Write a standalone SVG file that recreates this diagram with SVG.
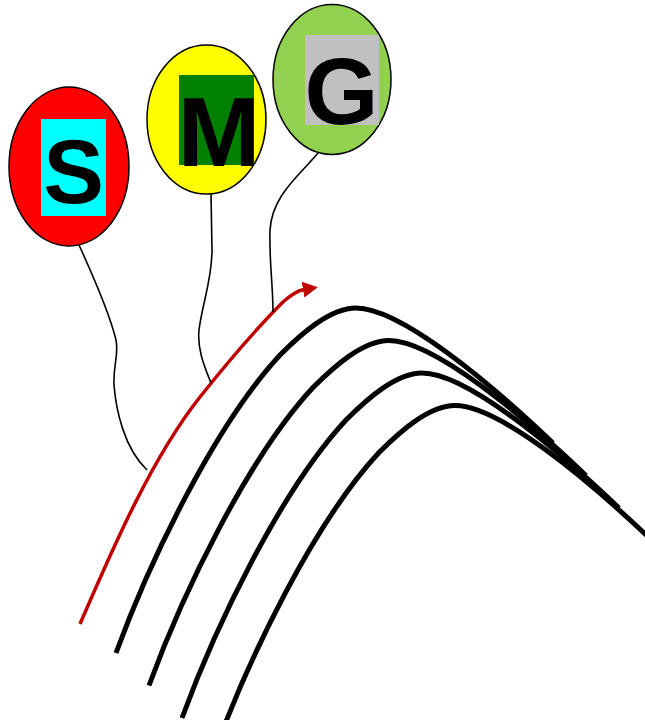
<svg xmlns="http://www.w3.org/2000/svg" xmlns:xlink="http://www.w3.org/1999/xlink" width="645" height="720" viewBox="0 0 645 720">
<style>
.bal{stroke:#000;stroke-width:1.5}
.lbl{font-family:"Liberation Sans",Arial,sans-serif;font-weight:bold;fill:#000;text-anchor:middle}
.str{fill:none;stroke:#000;stroke-width:1.6}
.wave{fill:none;stroke:#000;stroke-width:5}
.arr{fill:none;stroke:#c00000;stroke-width:3.5}
</style>
<defs>
<marker id="ah" markerUnits="userSpaceOnUse" markerWidth="15" markerHeight="16" viewBox="0 0 15 16" refX="1" refY="8" orient="auto">
<path d="M0,0 L15,8 L0,16 z" fill="#c00000"/>
</marker>
<path id="wv" d="M116,653 C150,560 215,425 280,355 C301,334 330,308 356,308 C400,308 488,381 553,443"/>
</defs>
<rect width="645" height="720" fill="#fff"/>
<g id="connectors">
<use xlink:href="#wv" class="wave"/>
<use xlink:href="#wv" class="wave" transform="translate(33,32.5)"/>
<use xlink:href="#wv" class="wave" transform="translate(66,65)"/>
<use xlink:href="#wv" class="wave" transform="translate(99,97.5)"/>
<path class="arr" d="M80,624 C110,555 150,460 200,397 C235,353 260,325 283,302 C292,294 298,290.5 304,289.5" marker-end="url(#ah)"/>
<path class="str" d="M79,245 C95,280 110,315 116,340 C119,355 113,365 114,385 C116,410 124,448 147,470"/>
<path class="str" d="M211,194 L212,250 C212,280 202,305 199,330 C197,350 205,368 211,383"/>
<path class="str" d="M318,153 C300,175 272,195 270,230 C269,260 273,285 273,312"/>
</g>
<g id="balloon-s">
<ellipse class="bal" cx="69" cy="166.5" rx="60" ry="79.5" fill="#ff0000"/>
<rect x="41" y="119" width="65" height="97" fill="#00ffff"/>
<text class="lbl" x="73.5" y="203" font-size="91">S</text>
</g>
<g id="balloon-m">
<ellipse class="bal" cx="206.5" cy="119.5" rx="59.5" ry="74.5" fill="#ffff00"/>
<rect x="179" y="75" width="75" height="90" fill="#008000"/>
<text class="lbl" x="219" y="166" font-size="99">M</text>
</g>
<g id="balloon-g">
<ellipse class="bal" cx="332" cy="79.5" rx="59" ry="75" fill="#92d050"/>
<rect x="305" y="35" width="74" height="90" fill="#c0c0c0"/>
<text class="lbl" x="341.5" y="124" font-size="95">G</text>
</g>
</svg>
